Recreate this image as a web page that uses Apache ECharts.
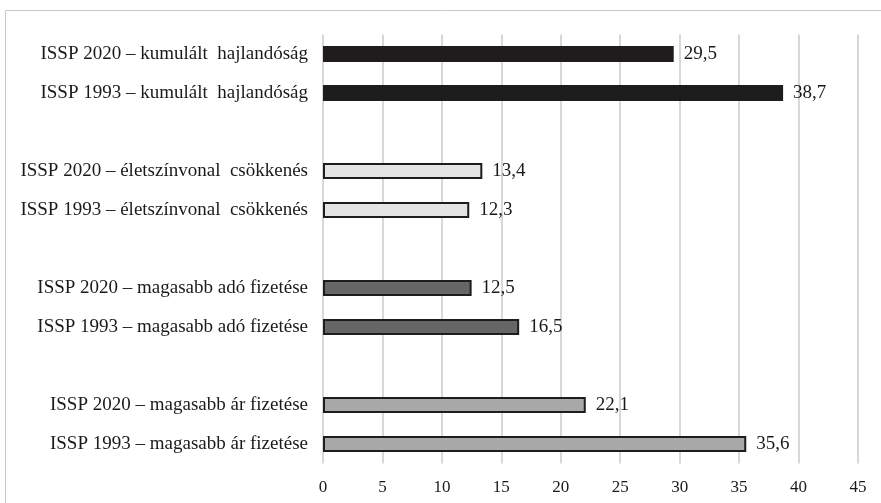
<!DOCTYPE html>
<html>
<head>
<meta charset="utf-8">
<script src="https://cdn.jsdelivr.net/npm/echarts@6/dist/echarts.min.js"></script>
<style>
html,body{margin:0;padding:0;background:#fff;}
#c{width:881px;height:503px;}
</style>
</head>
<body>
<div id="c"></div>
<script>
const categories = [
  'ISSP 2020 – kumulált  hajlandóság',
  'ISSP 1993 – kumulált  hajlandóság',
  '',
  'ISSP 2020 – életszínvonal  csökkenés',
  'ISSP 1993 – életszínvonal  csökkenés',
  ' ',
  'ISSP 2020 – magasabb adó fizetése',
  'ISSP 1993 – magasabb adó fizetése',
  '  ',
  'ISSP 2020 – magasabb ár fizetése',
  'ISSP 1993 – magasabb ár fizetése'
];
const values = [29.5, 38.7, null, 13.4, 12.3, null, 12.5, 16.5, null, 22.1, 35.6];
const xTicks = [0, 5, 10, 15, 20, 25, 30, 35, 40, 45];

const groupColors = ['#1e1c1d', '#1e1c1d', null, '#e4e4e4', '#e4e4e4', null, '#666666', '#666666', null, '#a8a8a8', '#a8a8a8'];

const chart = echarts.init(document.getElementById('c'));
const font = '"Liberation Serif", "Times New Roman", serif';
chart.setOption({
  animation: false,
  backgroundColor: '#ffffff',
  graphic: [{
    type: 'rect',
    shape: {x: 5.5, y: 10.5, width: 890, height: 520},
    style: {fill: 'none', stroke: '#c8c8c8', lineWidth: 1},
    silent: true
  }],
  grid: {left: 323, right: 23, top: 34.5, bottom: 39.5, containLabel: false},
  xAxis: {
    type: 'value', min: 0, max: 45, interval: 5,
    axisLine: {show: false},
    axisTick: {show: false},
    splitLine: {show: true, lineStyle: {color: '#cbcbcb', width: 1.5}},
    axisLabel: {
      fontFamily: font, fontSize: 17, color: '#1a1a1a', margin: 16,
      formatter: v => xTicks.includes(v) ? String(v) : ''
    }
  },
  yAxis: {
    type: 'category', inverse: true, data: categories,
    axisLine: {show: false},
    axisTick: {show: false},
    axisLabel: {fontFamily: font, fontSize: 19, color: '#1a1a1a', margin: 15}
  },
  series: [{
    type: 'bar',
    barWidth: 16,
    data: values.map((v, i) => ({
      value: v,
      itemStyle: {
        color: groupColors[i] || '#000',
        borderColor: '#1e1c1d',
        borderWidth: i < 2 ? 0 : 2
      }
    })),
    label: {
      show: true, position: 'right', distance: 10,
      fontFamily: font, fontSize: 19, color: '#1a1a1a',
      formatter: p => p.value == null ? '' : String(p.value).replace('.', ',')
    }
  }]
});
</script>
</body>
</html>
